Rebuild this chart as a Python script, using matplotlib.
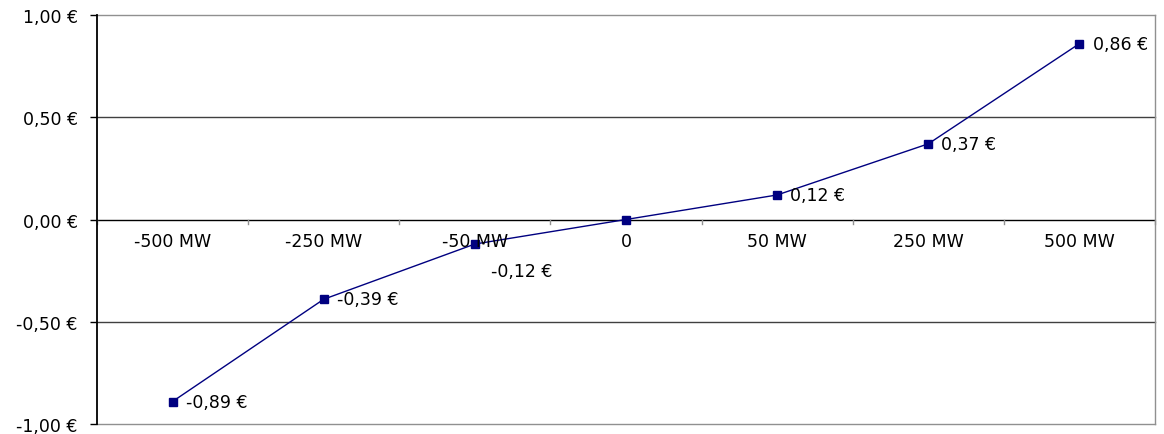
import matplotlib
matplotlib.use("Agg")
import matplotlib.pyplot as plt
from matplotlib.ticker import FixedLocator

categories = ["-500 MW", "-250 MW", "-50 MW", "0", "50 MW", "250 MW", "500 MW"]
values = [-0.89, -0.39, -0.12, 0.0, 0.12, 0.37, 0.86]
y_ticks = [-1.0, -0.5, 0.0, 0.5, 1.0]

plt.rcParams["font.family"] = ["DejaVu Sans"]
FS = 12.5

def eur(v):
    return f"{v:.2f}".replace(".", ",") + " €"

fig = plt.figure(figsize=(11.64, 4.35), dpi=100)
ax = fig.add_axes([97 / 1164, 1 - 425 / 435, (1155 - 97) / 1164, (425 - 16) / 435])

n = len(categories)
x = list(range(n))
ax.set_xlim(-0.5, n - 0.5)
ax.set_ylim(-1.0, 1.0)

# horizontal gridlines
for yv in y_ticks:
    if yv == 0.0:
        continue
    col = "#909090" if abs(yv) == 1.0 else "#404040"
    ax.axhline(yv, color=col, lw=1.0, zorder=1, clip_on=False)

# zero axis line with category tick marks
ax.axhline(0, color="black", lw=1.0, zorder=2)
for b in range(n + 1):
    ax.plot([b - 0.5, b - 0.5], [0, -0.02], color="#909090", lw=1.0, zorder=2,
            clip_on=False)

ax.plot(x, values, color="#000080", lw=1.0, marker="s", markersize=5.5,
        markerfacecolor="#000080", markeredgecolor="#000080", zorder=3)

for i, (xi, v) in enumerate(zip(x, values)):
    if v == 0.0:
        continue
    if i == 2:
        ax.annotate(eur(v), (xi, v), xytext=(11.5, -19.5), textcoords="offset points",
                    fontsize=FS, va="center", ha="left")
    else:
        ax.annotate(eur(v), (xi, v), xytext=(9.5, 0), textcoords="offset points",
                    fontsize=FS, va="center", ha="left")

for i, lab in enumerate(categories):
    ax.text(i, -0.06, lab, ha="center", va="top", fontsize=FS)

ax.set_xticks([])
ax.yaxis.set_major_locator(FixedLocator(y_ticks))
ax.set_yticklabels([eur(v) for v in y_ticks], fontsize=FS)
ax.tick_params(axis="y", direction="out", length=5, width=1, color="black", pad=9)

for s in ["top", "right", "bottom"]:
    ax.spines[s].set_visible(False)
ax.spines["left"].set_color("black")
ax.spines["left"].set_linewidth(1.3)
ax.spines["left"].set_zorder(4)
ax.plot([1, 1], [0, 1], transform=ax.transAxes, color="#909090", lw=1.0, clip_on=False)

fig.savefig("out.png", dpi=100, facecolor="white")
